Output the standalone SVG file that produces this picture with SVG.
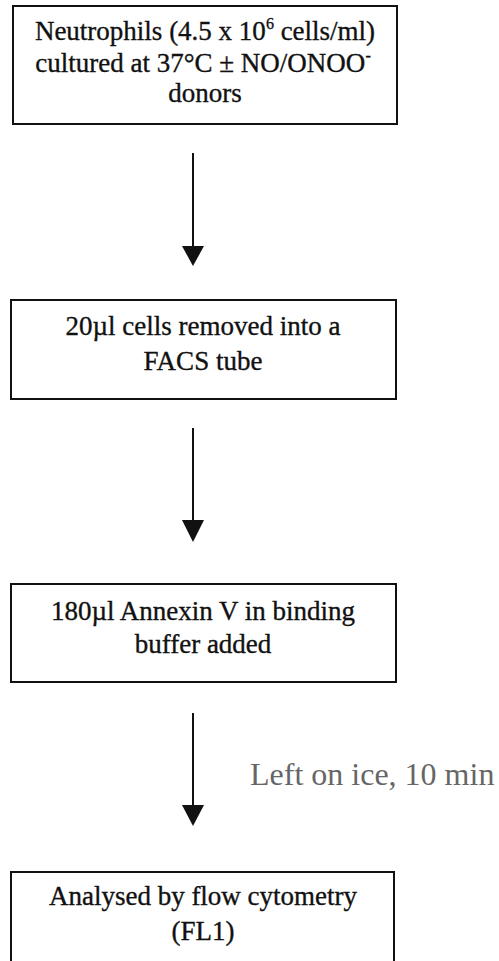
<svg xmlns="http://www.w3.org/2000/svg" width="499" height="961" viewBox="0 0 499 961">
<style>
.box{fill:#fff;stroke:#111;stroke-width:2}
.t{font-family:'Liberation Serif','DejaVu Serif',serif;font-size:27px;fill:#111;text-anchor:middle;stroke:#111;stroke-width:0.35}
.note{font-family:'Liberation Serif','DejaVu Serif',serif;font-size:32px;fill:#666}
.ln{stroke:#111;stroke-width:2;fill:none}
.hd{fill:#111}
</style>
<rect width="499" height="961" fill="#fff"/>
<g id="n1">
<rect class="box" x="13" y="6" width="384" height="118"/>
<text class="t" x="205" y="40">Neutrophils (4.5 x 10<tspan font-size="16" dy="-11">6</tspan><tspan dy="11"> cells/ml)</tspan></text>
<text class="t" x="203" y="72">cultured at 37°C ± NO/ONOO<tspan font-size="16" dy="-11">-</tspan></text>
<text class="t" x="205" y="102">donors</text>
</g>
<g id="n2">
<rect class="box" x="11" y="300" width="385" height="99"/>
<text class="t" x="203" y="335">20µl cells removed into a</text>
<text class="t" x="203" y="370">FACS tube</text>
</g>
<g id="n3">
<rect class="box" x="11" y="584" width="385" height="98"/>
<text class="t" x="203" y="620">180µl Annexin V in binding</text>
<text class="t" x="203" y="653">buffer added</text>
</g>
<g id="n4">
<rect class="box" x="11" y="872" width="383" height="100"/>
<text class="t" x="203" y="905">Analysed by flow cytometry</text>
<text class="t" x="203" y="940">(FL1)</text>
</g>
<g id="connectors">
<line class="ln" x1="193" y1="153" x2="193" y2="250"/>
<path class="hd" d="M182,246 L204,246 L193,266 Z"/>
<line class="ln" x1="193" y1="428" x2="193" y2="524"/>
<path class="hd" d="M182,520 L204,520 L193,542 Z"/>
<line class="ln" x1="193" y1="713" x2="193" y2="809"/>
<path class="hd" d="M182,805 L204,805 L193,826 Z"/>
<text class="note" x="250" y="785">Left on ice, 10 min</text>
</g>
</svg>
